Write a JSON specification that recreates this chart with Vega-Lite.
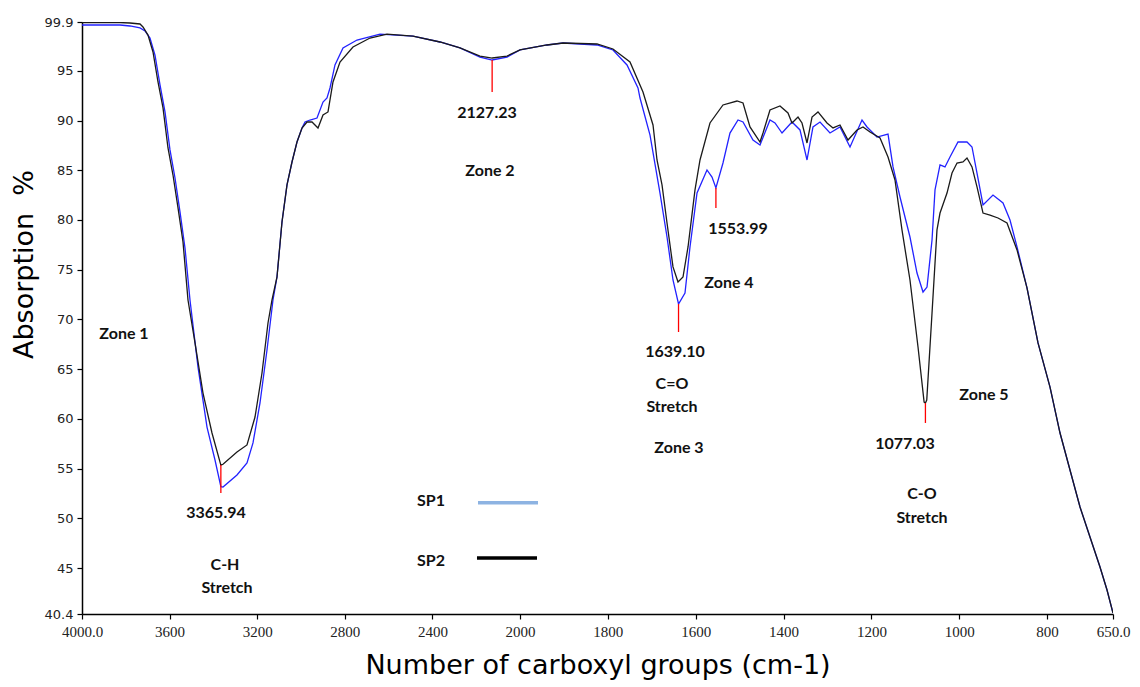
{
  "$schema": "https://vega.github.io/schema/vega-lite/v6.json",
  "width": 1031,
  "height": 592,
  "autosize": {"type": "none"},
  "padding": {"left": 82, "top": 22, "right": 27, "bottom": 73},
  "background": "white",
  "config": {
    "view": {"stroke": null},
    "axis": {"grid": false, "domainColor": "#000000", "domainWidth": 1.5, "tickColor": "#000000", "tickWidth": 1.2, "tickSize": 5, "labelColor": "#222222", "titleColor": "#000000", "titleFontWeight": "normal"}
  },
  "datasets": {
    "spectra": [
      {"s":"SP1","wn":4000,"val":99.6},{"s":"SP1","wn":3917.8,"val":99.6},{"s":"SP1","wn":3826.5,"val":99.6},{"s":"SP1","wn":3780.8,"val":99.5},{"s":"SP1","wn":3735.2,"val":99.3},{"s":"SP1","wn":3712.3,"val":99.0},{"s":"SP1","wn":3689.5,"val":98.29},{"s":"SP1","wn":3666.7,"val":96.58},{"s":"SP1","wn":3643.8,"val":93.57},{"s":"SP1","wn":3621.0,"val":90.86},{"s":"SP1","wn":3598.2,"val":87.04},{"s":"SP1","wn":3575.3,"val":84.22},{"s":"SP1","wn":3552.5,"val":80.81},{"s":"SP1","wn":3529.7,"val":77.19},{"s":"SP1","wn":3506.9,"val":71.96},{"s":"SP1","wn":3470.3,"val":65.22},{"s":"SP1","wn":3429.2,"val":59.19},{"s":"SP1","wn":3392.7,"val":55.88},{"s":"SP1","wn":3365.9,"val":53.2},{"s":"SP1","wn":3356.2,"val":53.16},{"s":"SP1","wn":3292.3,"val":54.37},{"s":"SP1","wn":3246.6,"val":55.58},{"s":"SP1","wn":3219.2,"val":57.59},{"s":"SP1","wn":3187.2,"val":61.61},{"s":"SP1","wn":3155.3,"val":66.93},{"s":"SP1","wn":3127.9,"val":71.96},{"s":"SP1","wn":3109.6,"val":74.27},{"s":"SP1","wn":3086.8,"val":79.8},{"s":"SP1","wn":3063.9,"val":83.52},{"s":"SP1","wn":3041.1,"val":85.83},{"s":"SP1","wn":3018.3,"val":87.84},{"s":"SP1","wn":2995.4,"val":89.25},{"s":"SP1","wn":2981.7,"val":89.85},{"s":"SP1","wn":2958.9,"val":90.05},{"s":"SP1","wn":2926.9,"val":90.25},{"s":"SP1","wn":2899.5,"val":91.86},{"s":"SP1","wn":2881.3,"val":92.26},{"s":"SP1","wn":2867.6,"val":93.27},{"s":"SP1","wn":2844.8,"val":95.58},{"s":"SP1","wn":2808.2,"val":97.29},{"s":"SP1","wn":2744.3,"val":98.09},{"s":"SP1","wn":2639.3,"val":98.69},{"s":"SP1","wn":2488.6,"val":98.49},{"s":"SP1","wn":2365.3,"val":97.89},{"s":"SP1","wn":2274.0,"val":97.29},{"s":"SP1","wn":2182.7,"val":96.38},{"s":"SP1","wn":2127.2,"val":96.08},{"s":"SP1","wn":2059.4,"val":96.38},{"s":"SP1","wn":2000,"val":97.09},{"s":"SP1","wn":1938.5,"val":97.59},{"s":"SP1","wn":1902.1,"val":97.79},{"s":"SP1","wn":1824.7,"val":97.59},{"s":"SP1","wn":1788.3,"val":97.09},{"s":"SP1","wn":1756.4,"val":95.58},{"s":"SP1","wn":1731.4,"val":93.27},{"s":"SP1","wn":1726.8,"val":92.26},{"s":"SP1","wn":1704.0,"val":88.54},{"s":"SP1","wn":1681.3,"val":82.71},{"s":"SP1","wn":1665.3,"val":78.29},{"s":"SP1","wn":1651.7,"val":73.97},{"s":"SP1","wn":1639.1,"val":71.56},{"s":"SP1","wn":1624.4,"val":72.66},{"s":"SP1","wn":1613.0,"val":77.29},{"s":"SP1","wn":1597.0,"val":82.71},{"s":"SP1","wn":1574.3,"val":85.03},{"s":"SP1","wn":1562.9,"val":84.32},{"s":"SP1","wn":1554.0,"val":83.22},{"s":"SP1","wn":1537.9,"val":85.73},{"s":"SP1","wn":1522.0,"val":88.74},{"s":"SP1","wn":1503.7,"val":90.05},{"s":"SP1","wn":1492.3,"val":89.85},{"s":"SP1","wn":1469.6,"val":88.04},{"s":"SP1","wn":1453.6,"val":87.54},{"s":"SP1","wn":1430.9,"val":90.05},{"s":"SP1","wn":1419.5,"val":89.75},{"s":"SP1","wn":1403.5,"val":88.74},{"s":"SP1","wn":1380.8,"val":89.85},{"s":"SP1","wn":1362.6,"val":89.05},{"s":"SP1","wn":1346.6,"val":86.03},{"s":"SP1","wn":1333.0,"val":89.35},{"s":"SP1","wn":1317.0,"val":89.85},{"s":"SP1","wn":1294.3,"val":88.74},{"s":"SP1","wn":1271.5,"val":89.35},{"s":"SP1","wn":1248.7,"val":87.34},{"s":"SP1","wn":1221.4,"val":90.05},{"s":"SP1","wn":1210.0,"val":89.35},{"s":"SP1","wn":1187.3,"val":88.34},{"s":"SP1","wn":1162.2,"val":88.64},{"s":"SP1","wn":1150.8,"val":85.33},{"s":"SP1","wn":1134.9,"val":82.31},{"s":"SP1","wn":1112.2,"val":78.29},{"s":"SP1","wn":1096.2,"val":74.67},{"s":"SP1","wn":1082.5,"val":72.76},{"s":"SP1","wn":1073.4,"val":73.26},{"s":"SP1","wn":1062.0,"val":77.99},{"s":"SP1","wn":1055.2,"val":83.02},{"s":"SP1","wn":1043.8,"val":85.53},{"s":"SP1","wn":1032.5,"val":85.33},{"s":"SP1","wn":1021.1,"val":86.33},{"s":"SP1","wn":1002.9,"val":87.84},{"s":"SP1","wn":982.4,"val":87.84},{"s":"SP1","wn":971.0,"val":87.34},{"s":"SP1","wn":959.6,"val":84.72},{"s":"SP1","wn":945.9,"val":81.51},{"s":"SP1","wn":923.2,"val":82.51},{"s":"SP1","wn":900.4,"val":81.71},{"s":"SP1","wn":884.5,"val":80.0},{"s":"SP1","wn":868.5,"val":77.29},{"s":"SP1","wn":845.8,"val":73.17},{"s":"SP1","wn":820.7,"val":67.64},{"s":"SP1","wn":793.4,"val":63.21},{"s":"SP1","wn":770.6,"val":58.59},{"s":"SP1","wn":747.9,"val":54.87},{"s":"SP1","wn":725.1,"val":51.15},{"s":"SP1","wn":702.4,"val":48.14},{"s":"SP1","wn":679.6,"val":45.12},{"s":"SP1","wn":663.6,"val":42.81},{"s":"SP1","wn":650,"val":40.5},
      {"s":"SP2","wn":4000,"val":99.85},{"s":"SP2","wn":3917.8,"val":99.85},{"s":"SP2","wn":3826.5,"val":99.85},{"s":"SP2","wn":3780.8,"val":99.8},{"s":"SP2","wn":3735.2,"val":99.7},{"s":"SP2","wn":3721.5,"val":99.4},{"s":"SP2","wn":3698.6,"val":98.59},{"s":"SP2","wn":3675.8,"val":96.89},{"s":"SP2","wn":3653.0,"val":93.87},{"s":"SP2","wn":3630.1,"val":91.26},{"s":"SP2","wn":3607.3,"val":87.24},{"s":"SP2","wn":3584.5,"val":84.52},{"s":"SP2","wn":3561.6,"val":81.21},{"s":"SP2","wn":3538.8,"val":77.79},{"s":"SP2","wn":3516.0,"val":71.96},{"s":"SP2","wn":3484.0,"val":67.64},{"s":"SP2","wn":3447.5,"val":62.61},{"s":"SP2","wn":3406.4,"val":58.59},{"s":"SP2","wn":3365.9,"val":55.37},{"s":"SP2","wn":3356.2,"val":55.45},{"s":"SP2","wn":3292.3,"val":56.68},{"s":"SP2","wn":3246.6,"val":57.39},{"s":"SP2","wn":3210.0,"val":60.2},{"s":"SP2","wn":3178.1,"val":64.62},{"s":"SP2","wn":3150.7,"val":69.65},{"s":"SP2","wn":3132.4,"val":71.96},{"s":"SP2","wn":3109.6,"val":74.27},{"s":"SP2","wn":3086.8,"val":79.8},{"s":"SP2","wn":3063.9,"val":83.52},{"s":"SP2","wn":3041.1,"val":85.83},{"s":"SP2","wn":3018.3,"val":87.84},{"s":"SP2","wn":2995.4,"val":89.25},{"s":"SP2","wn":2972.6,"val":89.85},{"s":"SP2","wn":2949.8,"val":89.85},{"s":"SP2","wn":2922.4,"val":89.25},{"s":"SP2","wn":2899.5,"val":90.55},{"s":"SP2","wn":2876.7,"val":90.86},{"s":"SP2","wn":2853.9,"val":93.87},{"s":"SP2","wn":2821.9,"val":95.88},{"s":"SP2","wn":2762.6,"val":97.39},{"s":"SP2","wn":2684.9,"val":98.29},{"s":"SP2","wn":2607.3,"val":98.69},{"s":"SP2","wn":2488.6,"val":98.49},{"s":"SP2","wn":2365.3,"val":97.89},{"s":"SP2","wn":2274.0,"val":97.29},{"s":"SP2","wn":2182.7,"val":96.48},{"s":"SP2","wn":2127.2,"val":96.28},{"s":"SP2","wn":2059.4,"val":96.48},{"s":"SP2","wn":2000,"val":97.09},{"s":"SP2","wn":1938.5,"val":97.59},{"s":"SP2","wn":1902.1,"val":97.79},{"s":"SP2","wn":1824.7,"val":97.69},{"s":"SP2","wn":1788.3,"val":97.19},{"s":"SP2","wn":1749.6,"val":95.88},{"s":"SP2","wn":1720.0,"val":92.86},{"s":"SP2","wn":1697.2,"val":89.55},{"s":"SP2","wn":1688.1,"val":86.03},{"s":"SP2","wn":1676.7,"val":83.52},{"s":"SP2","wn":1665.3,"val":79.7},{"s":"SP2","wn":1651.7,"val":75.28},{"s":"SP2","wn":1640.3,"val":73.77},{"s":"SP2","wn":1628.9,"val":74.27},{"s":"SP2","wn":1617.5,"val":77.29},{"s":"SP2","wn":1601.6,"val":83.02},{"s":"SP2","wn":1590.2,"val":86.03},{"s":"SP2","wn":1567.5,"val":89.75},{"s":"SP2","wn":1537.9,"val":91.56},{"s":"SP2","wn":1506.0,"val":91.96},{"s":"SP2","wn":1492.3,"val":91.76},{"s":"SP2","wn":1476.4,"val":89.35},{"s":"SP2","wn":1453.6,"val":87.84},{"s":"SP2","wn":1446.8,"val":88.74},{"s":"SP2","wn":1430.9,"val":91.06},{"s":"SP2","wn":1408.1,"val":91.46},{"s":"SP2","wn":1389.9,"val":90.76},{"s":"SP2","wn":1380.8,"val":89.75},{"s":"SP2","wn":1367.1,"val":90.35},{"s":"SP2","wn":1358.0,"val":89.75},{"s":"SP2","wn":1346.6,"val":87.74},{"s":"SP2","wn":1335.2,"val":90.35},{"s":"SP2","wn":1321.6,"val":90.86},{"s":"SP2","wn":1301.1,"val":89.75},{"s":"SP2","wn":1287.4,"val":89.25},{"s":"SP2","wn":1271.5,"val":89.55},{"s":"SP2","wn":1253.3,"val":88.04},{"s":"SP2","wn":1232.8,"val":89.05},{"s":"SP2","wn":1219.1,"val":89.35},{"s":"SP2","wn":1203.2,"val":88.84},{"s":"SP2","wn":1180.4,"val":88.24},{"s":"SP2","wn":1162.2,"val":86.33},{"s":"SP2","wn":1146.3,"val":84.02},{"s":"SP2","wn":1130.4,"val":79.0},{"s":"SP2","wn":1112.2,"val":73.97},{"s":"SP2","wn":1093.9,"val":67.24},{"s":"SP2","wn":1080.0,"val":61.7},{"s":"SP2","wn":1077.0,"val":61.6},{"s":"SP2","wn":1074.0,"val":61.9},{"s":"SP2","wn":1062.0,"val":70.65},{"s":"SP2","wn":1050.7,"val":79.0},{"s":"SP2","wn":1043.8,"val":80.7},{"s":"SP2","wn":1027.9,"val":82.71},{"s":"SP2","wn":1016.5,"val":84.72},{"s":"SP2","wn":1005.1,"val":85.73},{"s":"SP2","wn":991.5,"val":85.83},{"s":"SP2","wn":982.4,"val":86.23},{"s":"SP2","wn":971.0,"val":85.33},{"s":"SP2","wn":959.6,"val":83.32},{"s":"SP2","wn":945.9,"val":80.7},{"s":"SP2","wn":930.0,"val":80.5},{"s":"SP2","wn":911.8,"val":80.2},{"s":"SP2","wn":891.3,"val":79.7},{"s":"SP2","wn":868.5,"val":76.99},{"s":"SP2","wn":845.8,"val":73.17},{"s":"SP2","wn":820.7,"val":67.64},{"s":"SP2","wn":793.4,"val":63.21},{"s":"SP2","wn":770.6,"val":58.59},{"s":"SP2","wn":747.9,"val":54.87},{"s":"SP2","wn":725.1,"val":51.15},{"s":"SP2","wn":702.4,"val":48.14},{"s":"SP2","wn":679.6,"val":45.12},{"s":"SP2","wn":663.6,"val":42.81},{"s":"SP2","wn":650,"val":40.5}
    ],
    "peaks": [
      {"wn": 3365.94, "top": 55.37, "bottom": 52.56},
      {"wn": 2127.23, "top": 96.08, "bottom": 92.86},
      {"wn": 1639.1, "top": 71.56, "bottom": 68.74},
      {"wn": 1553.99, "top": 83.22, "bottom": 81.21},
      {"wn": 1077.03, "top": 61.61, "bottom": 59.6}
    ],
    "notes": [
      {"label": "Zone 1", "wn": 3808.2, "val": 68.54},
      {"label": "3365.94", "wn": 3388.1, "val": 50.55},
      {"label": "C-H", "wn": 3347.0, "val": 45.32},
      {"label": "Stretch", "wn": 3337.9, "val": 43.01},
      {"label": "2127.23", "wn": 2150.7, "val": 90.75},
      {"label": "Zone 2", "wn": 2137.0, "val": 84.92},
      {"label": "1553.99", "wn": 1503.7, "val": 79.09},
      {"label": "Zone 4", "wn": 1524.2, "val": 73.67},
      {"label": "1639.10", "wn": 1647.1, "val": 66.73},
      {"label": "C=O", "wn": 1654.0, "val": 63.52},
      {"label": "Stretch", "wn": 1654.0, "val": 61.2},
      {"label": "Zone 3", "wn": 1638.0, "val": 57.08},
      {"label": "1077.03", "wn": 1123.5, "val": 57.48},
      {"label": "C-O", "wn": 1084.8, "val": 52.47},
      {"label": "Stretch", "wn": 1084.8, "val": 50.05},
      {"label": "Zone 5", "wn": 943.7, "val": 62.41},
      {"label": "SP1", "wn": 2406.4, "val": 51.76},
      {"label": "SP2", "wn": 2406.4, "val": 45.72}
    ],
    "key": [
      {"s": "SP1", "from": 2191.8, "to": 1959.0, "val": 51.58},
      {"s": "SP2", "from": 2196.4, "to": 1961.3, "val": 46.03}
    ]
  },
  "layer": [
    {
      "data": {"name": "spectra"},
      "mark": {"type": "line", "strokeWidth": 1.3, "clip": true},
      "encoding": {
        "x": {
          "field": "wn", "type": "quantitative",
          "title": "Number of carboxyl groups (cm-1)",
          "scale": {"domain": [4000, 2000, 650], "range": [0, 438, 1031], "zero": false, "nice": false},
          "axis": {
            "values": [4000, 3600, 3200, 2800, 2400, 2000, 1800, 1600, 1400, 1200, 1000, 800, 650],
            "labelExpr": "datum.value == 4000 ? '4000.0' : datum.value == 650 ? '650.0' : format(datum.value, 'd')",
            "labelFont": "Liberation Serif", "labelFontSize": 15, "labelPadding": 5,
            "labelOverlap": false, "labelBound": false, "labelFlush": false,
            "titleFont": "DejaVu Sans", "titleFontSize": 27, "titleY": 51, "titleBaseline": "middle"
          }
        },
        "y": {
          "field": "val", "type": "quantitative",
          "title": "Absorption\u00a0\u00a0%",
          "scale": {"domain": [40.4, 99.9], "zero": false, "nice": false},
          "axis": {
            "values": [40.4, 45, 50, 55, 60, 65, 70, 75, 80, 85, 90, 95, 99.9],
            "labelExpr": "datum.value == 40.4 || datum.value == 99.9 ? format(datum.value, '.1f') : format(datum.value, 'd')",
            "labelFont": "DejaVu Sans", "labelFontSize": 13, "labelPadding": 4,
            "labelOverlap": false, "labelBound": false, "labelFlush": false,
            "titleFont": "DejaVu Sans", "titleFontSize": 27, "titleX": -58, "titleY": 242,
            "titleAngle": -90, "titleAlign": "center", "titleBaseline": "middle"
          }
        },
        "color": {"field": "s", "type": "nominal", "legend": null,
                  "scale": {"domain": ["SP1", "SP2"], "range": ["#2222ff", "#1a1a1a"]}}
      }
    },
    {
      "data": {"name": "peaks"},
      "mark": {"type": "rule", "color": "#ff0000", "strokeWidth": 1.3},
      "encoding": {
        "x": {"field": "wn", "type": "quantitative"},
        "y": {"field": "top", "type": "quantitative"},
        "y2": {"field": "bottom"}
      }
    },
    {
      "data": {"name": "key"},
      "mark": {"type": "rule", "strokeWidth": 3.5},
      "encoding": {
        "x": {"field": "from", "type": "quantitative"},
        "x2": {"field": "to"},
        "y": {"field": "val", "type": "quantitative"},
        "color": {"field": "s", "type": "nominal", "legend": null,
                  "scale": {"domain": ["SP1", "SP2"], "range": ["#8db3e2", "#000000"]}}
      }
    },
    {
      "data": {"name": "notes"},
      "mark": {"type": "text", "font": "Lato", "fontWeight": "bold", "fontSize": 16, "align": "center", "baseline": "middle", "color": "#111111"},
      "encoding": {
        "x": {"field": "wn", "type": "quantitative"},
        "y": {"field": "val", "type": "quantitative"},
        "text": {"field": "label", "type": "nominal"}
      }
    }
  ],
  "resolve": {"scale": {"color": "independent"}}
}
